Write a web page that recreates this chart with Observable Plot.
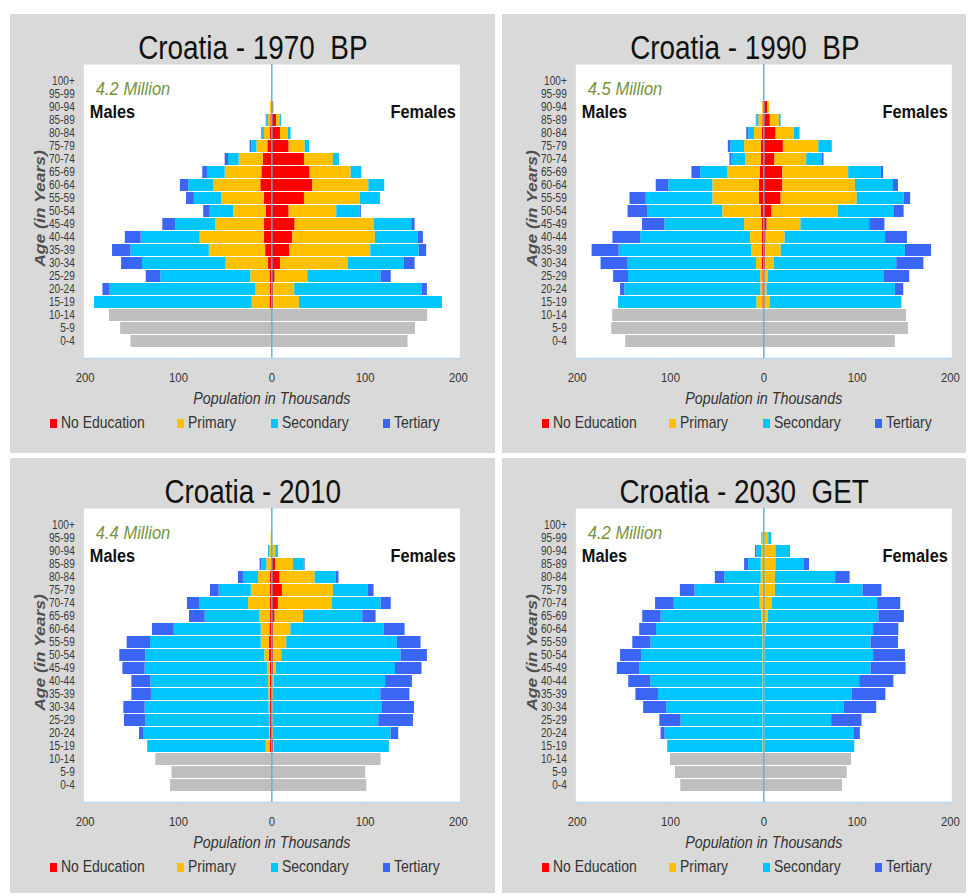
<!DOCTYPE html>
<html><head><meta charset="utf-8">
<script src="https://cdn.jsdelivr.net/npm/d3@7"></script>
<script src="https://cdn.jsdelivr.net/npm/@observablehq/plot@0.6"></script>
<style>
html,body{margin:0;padding:0;background:#fff;width:971px;height:896px;overflow:hidden;}
.panel{position:absolute;background:#d9d9d9;overflow:hidden;}
.title{position:absolute;left:0;top:13px;width:485px;text-align:center;font:34px "Liberation Sans",Arial,sans-serif;color:#111;white-space:pre;line-height:40px;}
.title span{display:inline-block;transform:scaleX(0.82);transform-origin:center;white-space:pre;}
.chart{position:absolute;left:0;top:46px;}
.legend{position:absolute;left:0;top:399px;height:20px;width:485px;font:17px "Liberation Sans",Arial,sans-serif;color:#333;}
.legend .item{position:absolute;top:0;line-height:20px;white-space:nowrap;}
.legend .sw{display:inline-block;width:7px;height:9px;margin-right:4px;vertical-align:0px;}
.legend .lb{display:inline-block;transform:scaleX(0.82);transform-origin:left center;}
</style></head><body>
<script>
// ---- categories ----
const ages = ["100+","95-99","90-94","85-89","80-84","75-79","70-74","65-69","60-64","55-59","50-54","45-49","40-44","35-39","30-34","25-29","20-24","15-19","10-14","5-9","0-4"];
const adultAges = ["15-19","20-24","25-29","30-34","35-39","40-44","45-49","50-54","55-59","60-64","65-69","70-74","75-79","80-84","85-89","90-94","95-99","100+"];
const childAges = ["0-4","5-9","10-14"];
const levels = ["No Education","Primary","Secondary","Tertiary"];
const childLevel = "Under 15";
const levelColors = ["#ff0000","#ffc000","#00c6ff","#3b66f5"];
const childColor = "#bfbfbf";
const xTicks = [-200,-100,0,100,200];

// ---- 1970 (thousands) ----
const m1970_none = [2,1.5,2,3.5,6.6,8.2,7.9,6,8.2,11.8,10.7,8.9,4.3,1.8,1,0.3,0,0];
const m1970_prim = [19,15.5,20.5,45.5,60.4,68.6,52.1,35,45.4,50.2,39.3,26.1,11.7,6.1,2.6,1,0,0];
const m1970_sec  = [169,157,96.5,89.6,84,63.2,43,25,29.4,27,19,11.4,5.4,1.7,1.8,0,0,0];
const m1970_ter  = [0,7,15.6,22.4,19.7,17,13.8,7,8.4,9,5,3.6,1.8,1.1,0.5,0,0,0];
const m1970_child = [151,162,174];
const f1970_none = [2,2,3.6,9.3,19,22.5,25,18.6,35,44,41,35,18.6,9.3,5.4,1.5,0.3,0];
const f1970_prim = [27.6,22.6,35,72.7,87,88.5,85,51,60,60,44,31,17.1,8.6,3.9,1,0.3,0];
const f1970_sec  = [153.4,136.4,78.4,60,52,46,40,25,21,17,11.4,6.5,4.7,2.8,1.1,0,0,0];
const f1970_ter  = [0,5.8,11,11.6,8,5.5,3.6,1.4,0.5,0,0,0,0,0,0,0,0,0];
const f1970_child = [146,154,167];

// ---- 1990 ----
const m1990_none = [1,1,1,1.8,1.8,1.8,1.8,2.9,4.6,4.6,3.6,2.8,2.8,1.8,1,0.5,0,0];
const m1990_prim = [6.4,2.2,2.5,6,11.1,12.5,18.9,41.1,50,50,35,16.7,17.8,8.2,4.4,1,0,0];
const m1990_sec  = [148.3,145.8,141.5,137.6,142.1,117.7,85.3,80.5,71.4,47.2,29.1,14.5,14.9,6,2.1,0,0.3,0];
const m1990_ter  = [0,4.5,16,29,29,29.7,24,21,17.4,13.5,9.3,2.3,2.5,2.3,0.5,0,0,0];
const m1990_child = [148,163,162];
const f1990_none = [1.4,1.4,1.4,2,2,2.5,3.6,8.9,18.6,20.4,20.4,12,21,13.2,7,4.3,0.3,0];
const f1990_prim = [5.3,2.1,3.2,9.3,16.7,20.3,36.2,70.9,81.4,77.8,70.6,34,38,19.6,9.7,1.7,0.3,0];
const f1990_sec  = [141.3,137.5,124.1,131.2,133.1,107.7,73.7,59.6,50.4,40.8,35,16.8,14.4,6.1,1.8,0,0,0];
const f1990_ter  = [0,9,27.7,29.1,28,23.5,16.3,11,7,5.3,2.4,1.7,0,0,0,0,0,0];
const f1990_child = [141,155,153];

// ---- 2010 ----
const m2010_none = [1.8,1.4,1.4,1.4,1.4,1.4,1.8,2.5,2.5,2.1,1.4,1.8,1.8,1.8,0.7,0,0,0];
const m2010_prim = [4.2,1.1,1.1,1.5,1.8,2.2,2.8,5,8.9,9.3,11.5,23.2,20.2,12.5,4.7,2.5,0.7,0];
const m2010_sec  = [127,135,132.5,132.8,125.8,126,131.1,127.5,118.6,93.2,58.5,51.8,34.4,16.1,5.3,1.1,0,0];
const m2010_ter  = [0,4.3,22.9,22.9,21,20.4,23.9,27.9,25,23.3,16.8,13.6,9.3,5.3,1.8,0,0,0];
const m2010_child = [108.6,107,124.3];
const f2010_none = [1.8,1,0.8,0.8,0.8,1,1.8,1.8,1.8,1.8,3.6,7.1,11.4,8.9,4.3,0.5,0,0];
const f2010_prim = [1.1,0.8,0.6,0.6,1,1.5,2.8,8.9,14.2,18.7,30.4,58,54.6,37.5,18.9,3.8,1,0];
const f2010_sec  = [123.1,126.1,113.2,117.2,115,119.5,127.9,127.9,118.6,99.9,63.5,52.1,37.5,22.6,11.4,2.8,0,0];
const f2010_ter  = [0,8.1,37.2,34.4,31.2,28.7,28.5,28.2,25.4,22.5,14.3,10.8,6.1,3,1.1,0,0,0];
const f2010_child = [101.8,100.7,117.1];

// ---- 2030 GET ----
const m2030_none = [0.2,0.2,0.2,0.2,0.2,0.2,0.2,0.2,0.4,0.4,0.6,0.6,0.6,0.4,0,0,0,0];
const m2030_prim = [0.8,0.6,0.6,0.6,0.6,0.7,0.8,0.8,0.6,0.8,1.5,3.3,4,2.4,2.8,1.8,1,0];
const m2030_sec  = [102,105,88,103.3,112.1,120.2,132,130,120,113.8,107.9,92.1,69.2,39,13.5,5.6,1.1,0];
const m2030_ter  = [0,4.3,22.6,24.7,24.2,23.7,24,22.5,19.4,18,19.8,20,15.6,10.2,4.3,1.5,0,0];
const m2030_child = [89,94.7,100];
const f2030_none = [0.2,0.2,0.2,0.2,0.2,0.2,0.2,0.2,0.3,0.3,0.5,0.5,0.7,1,0.5,1,0,0];
const f2030_prim = [1.2,0.8,0.8,0.8,0.8,0.8,0.8,1.2,1.1,2.5,4.1,8.7,11.7,11.4,12.5,12,5.3,0];
const f2030_sec  = [96.1,95.5,71.7,85,93.7,101.8,114,116.3,113.6,114.9,118.8,112.8,94,64.6,30,14.5,3.2,0];
const f2030_ter  = [0,7,32.6,35,36.1,36.6,37.5,34.1,29.3,27,27.3,24.8,20.2,15.5,6,0.9,0,0];
const f2030_child = [84.4,89.4,94];

const titles = ["Croatia - 1970  BP","Croatia - 1990  BP","Croatia - 2010","Croatia - 2030  GET"];
const totals = ["4.2 Million","4.5 Million","4.4 Million","4.2 Million"];

const panelData = [
  {male:[m1970_none,m1970_prim,m1970_sec,m1970_ter], maleChild:m1970_child, female:[f1970_none,f1970_prim,f1970_sec,f1970_ter], femaleChild:f1970_child},
  {male:[m1990_none,m1990_prim,m1990_sec,m1990_ter], maleChild:m1990_child, female:[f1990_none,f1990_prim,f1990_sec,f1990_ter], femaleChild:f1990_child},
  {male:[m2010_none,m2010_prim,m2010_sec,m2010_ter], maleChild:m2010_child, female:[f2010_none,f2010_prim,f2010_sec,f2010_ter], femaleChild:f2010_child},
  {male:[m2030_none,m2030_prim,m2030_sec,m2030_ter], maleChild:m2030_child, female:[f2030_none,f2030_prim,f2030_sec,f2030_ter], femaleChild:f2030_child}
];

// ---- layout (not data) ----
const layout = [
  {left:10, top:14, width:485, height:439},
  {left:502, top:14, width:464, height:439},
  {left:10, top:458, width:485, height:435},
  {left:502, top:458, width:464, height:435}
];

const FONT = "'Liberation Sans',Arial,sans-serif";
const AGE_LABEL = "Age (in Years)";

function buildRows(d) {
  const out = [];
  const add = (sign, sets, child) => {
    levels.forEach((lv, j) => sets[j].forEach((v, i) => out.push({age: adultAges[i], level: lv, value: sign * v})));
    child.forEach((v, i) => out.push({age: childAges[i], level: childLevel, value: sign * v}));
  };
  add(-1, d.male, d.maleChild);
  add(1, d.female, d.femaleChild);
  return out;
}

// narrow the Arial-metric text like the reference's condensed lettering
function condense(svg, total) {
  svg.querySelectorAll("text").forEach(t => {
    const s = t.textContent;
    let sc = " scale(0.84,1)";
    if (s === AGE_LABEL) sc = " scale(1,0.82)";
    else if (s === total) sc = " scale(0.92,1)";
    else if (s === "Males" || s === "Females") sc = " scale(0.86,1)";
    let tr = t.getAttribute("transform");
    if (!tr) {
      const x = +(t.getAttribute("x") || 0), y = +(t.getAttribute("y") || 0);
      t.removeAttribute("x"); t.removeAttribute("y");
      tr = `translate(${x},${y})`;
    }
    t.setAttribute("transform", tr + sc);
  });
}

layout.forEach((L, k) => {
  const panel = document.createElement("div");
  panel.className = "panel";
  Object.assign(panel.style, {left: L.left + "px", top: L.top + "px", width: L.width + "px", height: L.height + "px"});
  const t = document.createElement("div");
  t.className = "title";
  const ts = document.createElement("span");
  ts.textContent = titles[k];
  t.appendChild(ts);
  panel.appendChild(t);

  const rows = buildRows(panelData[k]);
  const mL = 73.3, fw = 376;
  const chart = Plot.plot({
    width: L.width, height: 350,
    marginLeft: mL, marginRight: L.width - mL - fw, marginTop: 4, marginBottom: 52,
    style: {background: "transparent", fontFamily: FONT, overflow: "visible"},
    x: {domain: [-201.5, 201.5]},
    y: {domain: ages, padding: 0.1},
    color: {domain: [...levels, childLevel], range: [...levelColors, childColor]},
    marks: [
      Plot.frame({fill: "white", stroke: null}),
      Plot.barX(rows, Plot.stackX({x: "value", y: "age", fill: "level", order: [...levels, childLevel]})),
      Plot.ruleX([0], {stroke: "#5db3e4", strokeWidth: 1.5}),
      Plot.frame({anchor: "bottom", stroke: "#b9d7f0", strokeWidth: 1.5}),
      Plot.axisY({tickSize: 0, tickPadding: 9, fontSize: 12, fill: "#3a3a3a", label: null}),
      Plot.axisX({ticks: xTicks, tickFormat: d => Math.abs(d), tickSize: 3, tickPadding: 11, stroke: "#b9d7f0", fill: "#333", fontSize: 13.5, label: null}),
      Plot.text([totals[k]], {text: d => d, frameAnchor: "top-left", textAnchor: "start", lineAnchor: "middle", dx: 12, dy: 25, fill: "#77933c", fontStyle: "italic", fontSize: 18}),
      Plot.text(["Males"], {text: d => d, frameAnchor: "top-left", textAnchor: "start", lineAnchor: "middle", dx: 6, dy: 47, fill: "#111", fontWeight: "bold", fontSize: 19}),
      Plot.text(["Females"], {text: d => d, frameAnchor: "top-right", textAnchor: "end", lineAnchor: "middle", dx: -4, dy: 47, fill: "#111", fontWeight: "bold", fontSize: 19}),
      Plot.text([AGE_LABEL], {text: d => d, frameAnchor: "left", rotate: -90, textAnchor: "middle", lineAnchor: "middle", dx: -43, dy: -3, fill: "#505050", fontStyle: "italic", fontWeight: "bold", fontSize: 17.5}),
      Plot.text(["Population in Thousands"], {text: d => d, frameAnchor: "bottom", textAnchor: "middle", lineAnchor: "middle", dy: 40, fill: "#333", fontStyle: "italic", fontSize: 17})
    ]
  });
  condense(chart, totals[k]);
  chart.classList.add("chart");
  chart.style.position = "absolute";
  chart.style.left = "0px";
  chart.style.top = "46px";
  panel.appendChild(chart);

  const lg = document.createElement("div");
  lg.className = "legend";
  const offs = [40, 167, 261, 373];
  levels.forEach((lv, j) => {
    const it = document.createElement("span");
    it.className = "item";
    it.style.left = offs[j] + "px";
    const sw = document.createElement("span");
    sw.className = "sw";
    sw.style.background = levelColors[j];
    it.appendChild(sw);
    const lb = document.createElement("span");
    lb.className = "lb";
    lb.textContent = lv;
    it.appendChild(lb);
    lg.appendChild(it);
  });
  panel.appendChild(lg);
  document.body.appendChild(panel);
});
</script>
</body></html>
